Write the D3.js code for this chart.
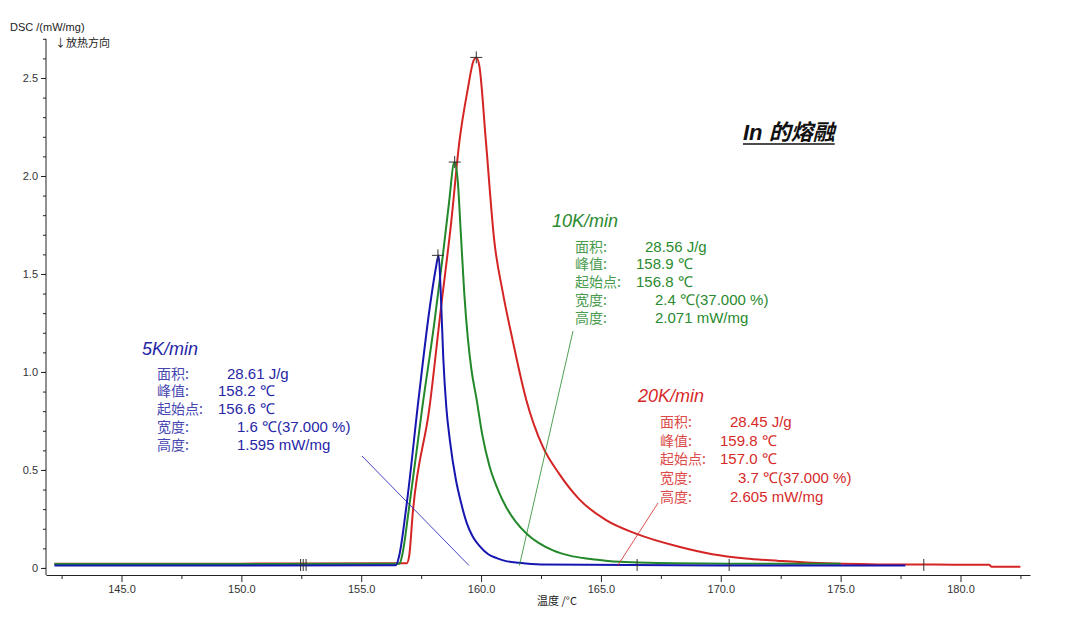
<!DOCTYPE html>
<html lang="zh">
<head>
    <meta charset="UTF-8">
    <title>In 的熔融 - DSC</title>
    <script src="https://d3js.org/d3.v7.min.js"></script>
    <style>
        body { margin: 0; background: #fff; }
        svg { display: block; }
        .tick text { font-family: "Liberation Sans", Arial, sans-serif; font-size: 11px; fill: #333; }
        .axis path, .axis line { stroke: #222; }
        .cjk { font-family: "Noto Sans CJK SC", sans-serif; }
        .num { font-family: "Liberation Sans", Arial, sans-serif; }
    </style>
</head>
<body>
<script>
    var w = 1080;
    var h = 632;

    // curves: temperature (°C) and DSC (mW/mg)
    var blueT = [142.2, 150, 156.45, 156.58, 156.9, 157.4, 157.85, 158.1, 158.23, 158.32, 158.42, 158.55, 158.7, 158.95, 159.15, 159.4, 159.65, 159.95, 160.3, 160.65, 161.0, 161.6, 162.5, 170, 177.7];
    var blueV = [0.012, 0.012, 0.014, 0.06, 0.33, 0.87, 1.32, 1.52, 1.595, 1.40, 1.08, 0.82, 0.65, 0.45, 0.34, 0.23, 0.16, 0.11, 0.07, 0.05, 0.036, 0.026, 0.018, 0.013, 0.012];

    var greenT = [142.2, 150, 156.6, 156.7, 157.0, 157.55, 158.05, 158.4, 158.65, 158.89, 159.03, 159.15, 159.3, 159.45, 159.6, 159.8, 160.05, 160.35, 160.7, 161.05, 161.45, 161.9, 162.4, 163.0, 163.7, 164.4, 165.2, 165.8, 167, 170.3, 175];
    var greenV = [0.02, 0.02, 0.022, 0.06, 0.31, 0.82, 1.25, 1.59, 1.85, 2.071, 1.97, 1.72, 1.40, 1.17, 1.01, 0.87, 0.68, 0.52, 0.40, 0.31, 0.235, 0.175, 0.128, 0.09, 0.063, 0.048, 0.037, 0.031, 0.026, 0.022, 0.021];

    var redT = [142.2, 150, 156.9, 157.0, 157.15, 157.85, 158.33, 158.75, 159.1, 159.44, 159.69, 159.8, 159.93, 160.2, 160.55, 160.9, 161.32, 161.88, 162.57, 163.26, 164.1, 165.2, 166.46, 168.26, 169.65, 171.04, 172.43, 173.8, 176.6, 181.2, 181.3, 182.5];
    var redV = [0.022, 0.022, 0.024, 0.06, 0.28, 0.82, 1.33, 1.76, 2.18, 2.44, 2.59, 2.605, 2.56, 2.18, 1.67, 1.41, 1.16, 0.86, 0.62, 0.48, 0.35, 0.245, 0.175, 0.108, 0.07, 0.048, 0.036, 0.026, 0.018, 0.016, 0.006, 0.006];

    // peak evaluation results
    var rates = ["5K/min", "10K/min", "20K/min"];
    var areaVals = ["28.61", "28.56", "28.45"];
    var peakVals = [158.2, 158.9, 159.8];
    var onsetVals = [156.6, 156.8, 157.0];
    var widthVals = [1.6, 2.4, 3.7];
    var heightVals = [1.595, 2.071, 2.605];
    var limitStart = [152.47, 152.58, 152.70];
    var limitEnd = [166.51, 170.35, 178.47];
    var leaderT = [159.5, 161.6, 165.7];

    var xTicks = [145, 150, 155, 160, 165, 170, 175, 180];
    var xMinor = [142.5, 147.5, 152.5, 157.5, 162.5, 167.5, 172.5, 177.5, 182.5];
    var yTicks = [0, 0.5, 1.0, 1.5, 2.0, 2.5];
    var yMinor = d3.range(0, 28).map(function (i) { return i / 10; });

    var colors = ["#1616b0", "#23882a", "#d42424"];
    var textColors = ["#2626a6", "#2a8a2e", "#d62a2a"];

    var svg = d3.select("body").append("svg")
        .attr("width", w)
        .attr("height", h);

    var xScale = d3.scaleLinear().domain([141.85, 182.9]).range([46, 1030]);
    var yScale = d3.scaleLinear().domain([-0.036, 2.70]).range([575, 38.8]);

    // axes
    svg.append("g")
        .attr("class", "axis")
        .attr("transform", "translate(0,575)")
        .call(d3.axisBottom(xScale).tickValues(xMinor).tickSize(4).tickSizeOuter(0).tickFormat(""));
    svg.append("g")
        .attr("class", "axis")
        .attr("transform", "translate(0,575)")
        .call(d3.axisBottom(xScale).tickValues(xTicks).tickSize(7).tickSizeOuter(0).tickPadding(3).tickFormat(d3.format(".1f")))
        .select(".domain").remove();

    svg.append("g")
        .attr("class", "axis")
        .attr("transform", "translate(46,0)")
        .call(d3.axisLeft(yScale).tickValues(yMinor).tickSize(3).tickSizeOuter(0).tickFormat(""))
        .select(".domain")
        .attr("d", "M0," + yScale(2.70) + "V575");
    svg.append("g")
        .attr("class", "axis")
        .attr("transform", "translate(46,0)")
        .call(d3.axisLeft(yScale).tickValues(yTicks).tickSize(5).tickPadding(3)
            .tickFormat(function (d) { return d === 0 ? "0" : d3.format(".1f")(d); }))
        .select(".domain").remove();

    // axis titles
    svg.append("text")
        .attr("class", "num")
        .attr("x", 10).attr("y", 30.5)
        .style("font-size", "11px").style("fill", "#222")
        .text("DSC /(mW/mg)");
    svg.append("text")
        .attr("class", "cjk")
        .attr("x", 55).attr("y", 47)
        .style("font-size", "11px").style("fill", "#222")
        .text("↓放热方向");
    svg.append("text")
        .attr("class", "cjk")
        .attr("x", 557).attr("y", 605)
        .attr("text-anchor", "middle")
        .style("font-size", "11px").style("fill", "#222")
        .text("温度 /°C");

    // curves
    var series = [
        { t: blueT, v: blueV },
        { t: greenT, v: greenV },
        { t: redT, v: redV }
    ];
    var line = d3.line()
        .x(function (d) { return xScale(d[0]); })
        .y(function (d) { return yScale(d[1]); })
        .curve(d3.curveMonotoneX);

    // draw red first, blue on top at the baseline
    [2, 1, 0].forEach(function (i) {
        var pts = series[i].t.map(function (t, j) { return [t, series[i].v[j]]; });
        svg.append("path")
            .datum(pts)
            .attr("d", line)
            .attr("fill", "none")
            .attr("stroke", colors[i])
            .attr("stroke-width", 2)
            .attr("stroke-linejoin", "round");
    });

    // integration limits
    var marks = svg.append("g").attr("stroke", "#333").attr("stroke-width", 1);
    limitStart.concat(limitEnd).forEach(function (t) {
        marks.append("line")
            .attr("x1", xScale(t)).attr("x2", xScale(t))
            .attr("y1", yScale(0.015) - 6).attr("y2", yScale(0.015) + 6);
    });

    // peak crosses
    peakVals.forEach(function (p, i) {
        var cx = xScale(p), cy = yScale(heightVals[i]);
        marks.append("line").attr("x1", cx - 6).attr("x2", cx + 6).attr("y1", cy).attr("y2", cy);
        marks.append("line").attr("x1", cx).attr("x2", cx).attr("y1", cy - 6).attr("y2", cy + 6);
    });

    // annotation blocks
    var blocks = [
        { tx: 142, ty: 355, lx: 157, ry: 378.5, gap: 17.9, off: [70, 61, 61, 80, 80], from: [362, 456] },
        { tx: 552, ty: 227, lx: 575, ry: 251.5, gap: 17.9, off: [70, 61, 61, 80, 80], from: [573, 331] },
        { tx: 638, ty: 401.5, lx: 660, ry: 427, gap: 18.7, off: [70, 60, 60, 78, 70], from: [658, 503] }
    ];
    var labels = ["面积:", "峰值:", "起始点:", "宽度:", "高度:"];

    blocks.forEach(function (b, i) {
        var g = svg.append("g");
        g.append("text")
            .attr("class", "num")
            .attr("x", b.tx).attr("y", b.ty)
            .style("font-size", "18px").style("font-style", "italic")
            .style("fill", textColors[i])
            .text(rates[i]);
        var vals = [
            areaVals[i] + " J/g",
            peakVals[i].toFixed(1) + " ℃",
            onsetVals[i].toFixed(1) + " ℃",
            widthVals[i].toFixed(1) + " ℃(37.000 %)",
            heightVals[i].toFixed(3) + " mW/mg"
        ];
        labels.forEach(function (lab, k) {
            var y = b.ry + k * b.gap;
            g.append("text")
                .attr("class", "cjk")
                .attr("x", b.lx).attr("y", y)
                .style("font-size", "14px")
                .style("fill", textColors[i]).style("opacity", 0.85)
                .text(lab);
            g.append("text")
                .attr("class", "num")
                .attr("x", b.lx + b.off[k]).attr("y", y)
                .style("font-size", "15px")
                .style("fill", textColors[i])
                .text(vals[k]);
        });
        g.append("line")
            .attr("x1", b.from[0]).attr("y1", b.from[1])
            .attr("x2", xScale(leaderT[i])).attr("y2", yScale(0.012))
            .attr("stroke", colors[i]).attr("stroke-width", 0.8);
    });

    // title
    var title = svg.append("text")
        .attr("x", 743).attr("y", 140)
        .style("font-size", "22px").style("font-weight", "bold").style("font-style", "italic")
        .style("fill", "#111");
    title.append("tspan").attr("class", "num").text("In ");
    title.append("tspan").attr("class", "cjk").text("的熔融");
    var tl = title.node().getComputedTextLength();
    svg.append("line")
        .attr("x1", 743).attr("x2", 743 + tl)
        .attr("y1", 144).attr("y2", 144)
        .attr("stroke", "#111").attr("stroke-width", 1.5);
</script>
</body>
</html>
